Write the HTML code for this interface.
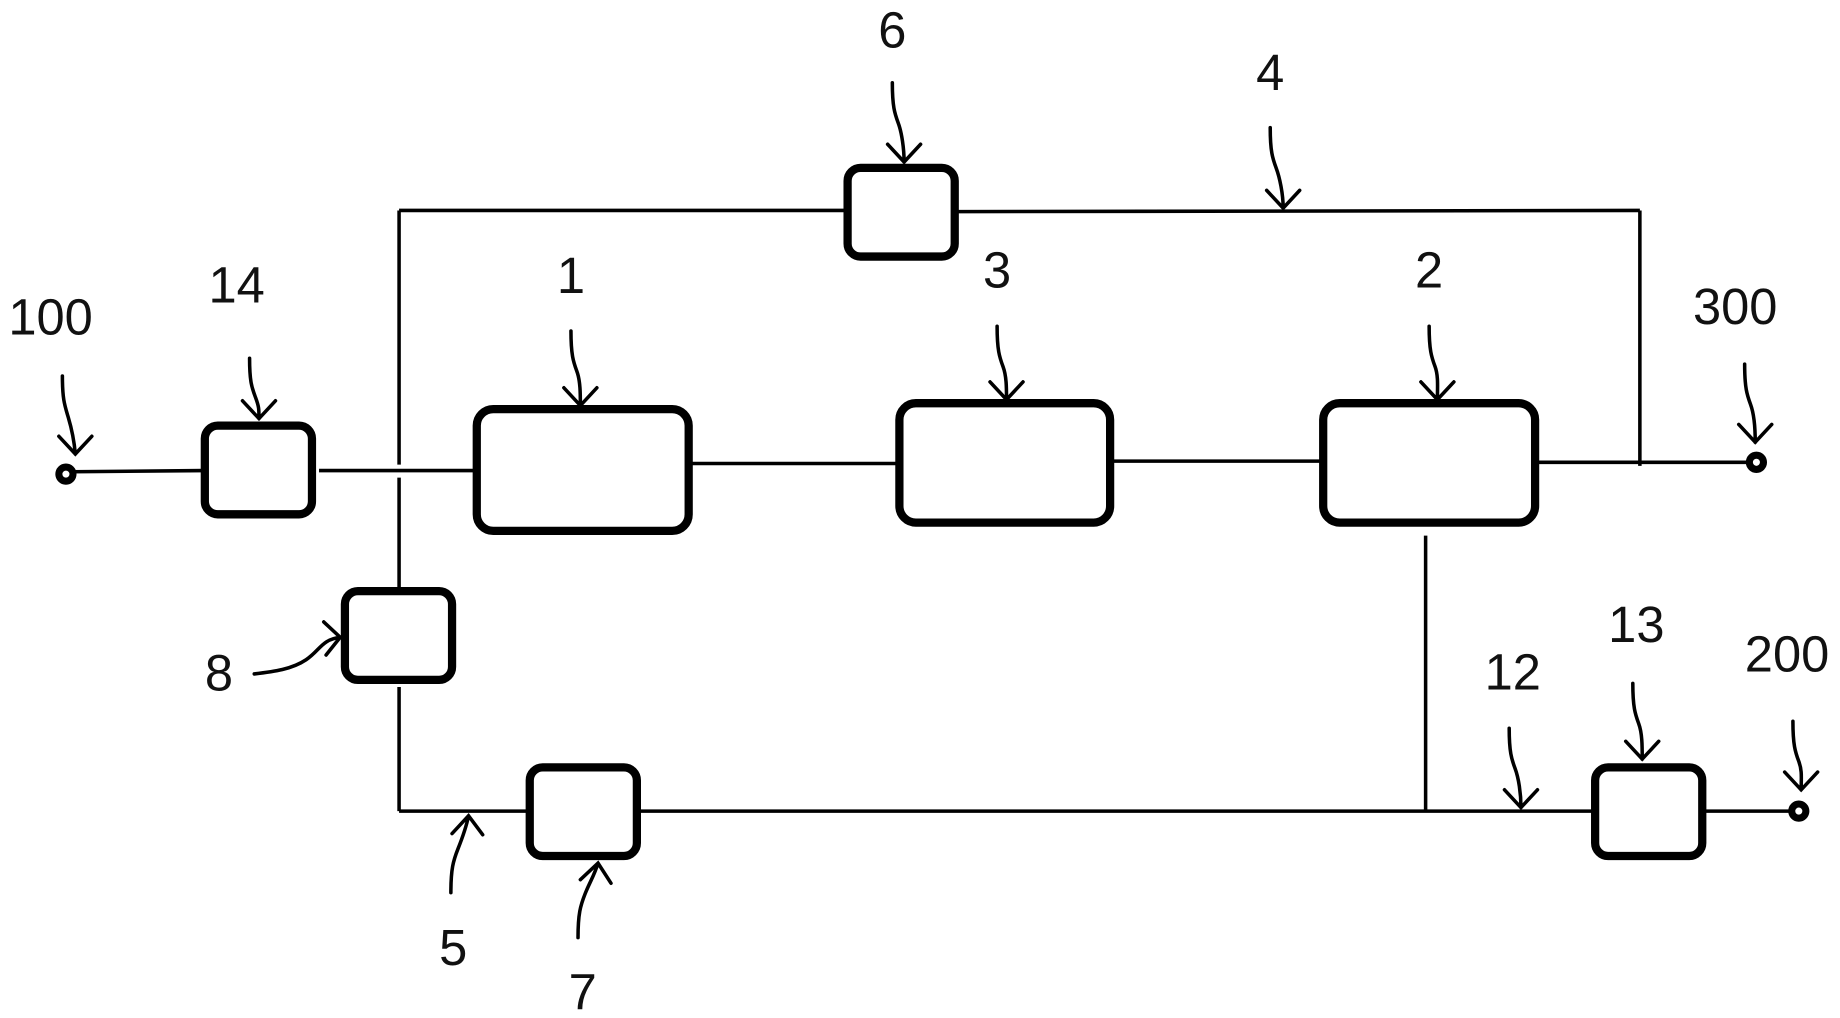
<!DOCTYPE html>
<html><head><meta charset="utf-8"><style>
html,body{margin:0;padding:0;background:#fff;}
svg{display:block;}
text{font-family:"Liberation Sans",sans-serif;font-size:43px;fill:#111;text-anchor:middle;}
</style></head><body>
<svg width="1840" height="1018" viewBox="0 0 1563 861" preserveAspectRatio="none" xmlns="http://www.w3.org/2000/svg">
<g transform="translate(-2,-2)">
<g fill="none" stroke="#000" stroke-width="3">
  <line x1="62" y1="401" x2="175" y2="400"/>
  <line x1="273" y1="400" x2="405" y2="400"/>
  <line x1="588" y1="394" x2="765" y2="394"/>
  <line x1="946" y1="392" x2="1125" y2="392"/>
  <line x1="1307" y1="393" x2="1488" y2="393"/>
  <line x1="341" y1="180" x2="720" y2="180"/>
  <line x1="341" y1="180" x2="341" y2="395"/>
  <line x1="341" y1="406" x2="341" y2="500"/>
  <line x1="814" y1="181" x2="1395" y2="180"/>
  <line x1="1395" y1="180" x2="1395" y2="396"/>
  <line x1="341" y1="583" x2="341" y2="688"/>
  <line x1="341" y1="688" x2="450" y2="688"/>
  <line x1="544" y1="688" x2="1355" y2="688"/>
  <line x1="1213" y1="455" x2="1213" y2="688"/>
  <line x1="1449" y1="688" x2="1525" y2="688"/>
</g>
<g fill="#fff" stroke="#000" stroke-width="7">
  <rect x="176" y="362" width="91" height="75" rx="11"/>
  <rect x="722" y="144" width="91" height="75" rx="11"/>
  <rect x="407" y="348" width="180" height="103" rx="14"/>
  <rect x="766" y="343" width="179" height="101" rx="14"/>
  <rect x="1126" y="343" width="180" height="101" rx="14"/>
  <rect x="295" y="502" width="91" height="75" rx="11"/>
  <rect x="452" y="651" width="91" height="75" rx="11"/>
  <rect x="1357" y="651" width="91" height="75" rx="11"/>
</g>
<g fill="#fff" stroke="#000" stroke-width="6">
  <circle cx="58" cy="403" r="6"/>
  <circle cx="1494" cy="393" r="6"/>
  <circle cx="1530" cy="688" r="6"/>
</g>
<g fill="none" stroke="#000" stroke-width="3" stroke-linecap="round">
  <path d="M55,320 C55,340 57,345 60,355 S65,375 66,386 M52,371 L66,386 L80,371"/>
  <path d="M214,305 C214,325 216,330 219,338 S222,348 222,356 M208,341 L222,356 L236,341"/>
  <path d="M487,282 C487,302 489,308 492,316 S495,335 495,345 M481,330 L495,345 L509,330"/>
  <path d="M760,72 C760,92 762,98 765,106 S770,128 770,139 M756,124 L770,139 L784,124"/>
  <path d="M1081,110 C1081,130 1083,136 1086,144 S1092,166 1092,178 M1078,163 L1092,178 L1106,163"/>
  <path d="M849,278 C849,298 851,304 854,312 S857,330 857,340 M843,325 L857,340 L871,325"/>
  <path d="M1216,278 C1216,298 1218,304 1221,312 S1223,330 1223,340 M1209,325 L1223,340 L1237,325"/>
  <path d="M1484,310 C1484,330 1486,336 1489,344 S1493,364 1493,376 M1479,361 L1493,376 L1507,361"/>
  <path d="M1389,580 C1389,600 1391,606 1394,614 S1397,633 1397,644 M1383,629 L1397,644 L1411,629"/>
  <path d="M1284,618 C1284,638 1286,644 1289,652 S1294,673 1294,685 M1280,670 L1294,685 L1308,670"/>
  <path d="M1525,612 C1525,632 1527,638 1530,646 S1532,660 1532,670 M1518,655 L1532,670 L1546,655"/>
  <path d="M218,572 C235,570 250,568 262,560 S275,543 291,541 M277,528 L291,541 L279,556"/>
  <path d="M385,757 C385,737 387,730 391,720 S398,702 400,692 M386,707 L400,692 L412,708"/>
  <path d="M493,795 C493,775 495,768 499,758 S507,742 510,732 M495,746 L510,732 L521,749"/>
</g>
<text x="45" y="285">100</text>
<text x="203" y="258">14</text>
<text x="487" y="250">1</text>
<text x="760" y="42">6</text>
<text x="1081" y="78">4</text>
<text x="849" y="245">3</text>
<text x="1216" y="245">2</text>
<text x="1476" y="276">300</text>
<text x="188" y="586">8</text>
<text x="1287" y="585">12</text>
<text x="1392" y="545">13</text>
<text x="1520" y="570">200</text>
<text x="387" y="818">5</text>
<text x="497" y="856">7</text>
</g>
</svg>
</body></html>
